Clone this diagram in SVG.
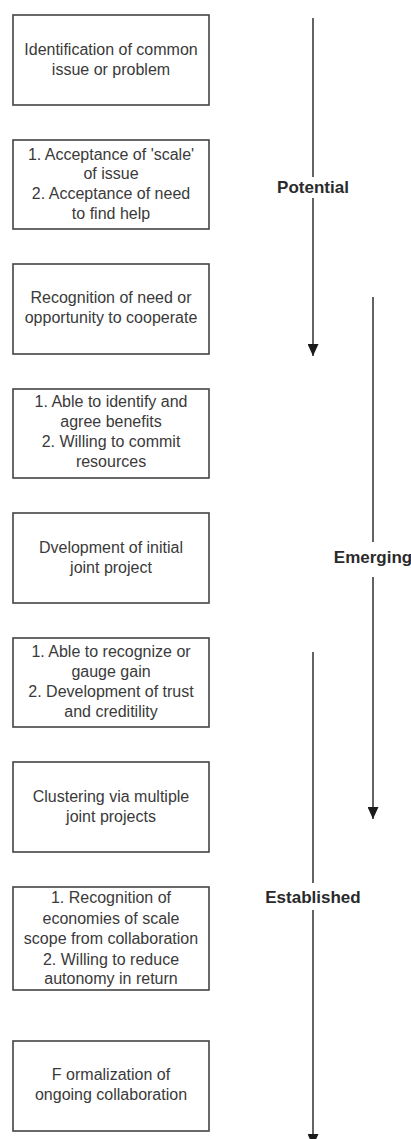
<svg xmlns="http://www.w3.org/2000/svg" width="411" height="1139" viewBox="0 0 411 1139">
  <style>
    .box { fill: #ffffff; stroke: #444444; stroke-width: 1.6; }
    .txt { font-family: "Liberation Sans", Arial, sans-serif; font-size: 16px; fill: #3a3a3a; text-anchor: middle; }
    .stage { font-family: "Liberation Sans", Arial, sans-serif; font-size: 17px; font-weight: bold; fill: #2a2a2a; text-anchor: middle; }
    .axis { stroke: #222222; stroke-width: 1.4; fill: none; }
  </style>
  <defs>
    <marker id="head" markerUnits="userSpaceOnUse" markerWidth="12" markerHeight="11" refX="12" refY="5.5" orient="auto">
      <path d="M0,0 L12,5.5 L0,11 z" fill="#1a1a1a"/>
    </marker>
  </defs>
  <rect width="411" height="1139" fill="#ffffff"/>

  <!-- stage arrows -->
  <g id="connectors">
    <line class="axis" x1="313" y1="18" x2="313" y2="177"/>
    <line class="axis" x1="313" y1="198" x2="313" y2="356" marker-end="url(#head)"/>
    <line class="axis" x1="373" y1="297" x2="373" y2="542"/>
    <line class="axis" x1="373" y1="577" x2="373" y2="819" marker-end="url(#head)"/>
    <line class="axis" x1="313" y1="652" x2="313" y2="883"/>
    <line class="axis" x1="313" y1="910" x2="313" y2="1146" marker-end="url(#head)"/>
  </g>

  <g id="stage-potential"><text class="stage" x="313" y="192.5">Potential</text></g>
  <g id="stage-emerging"><text class="stage" x="373" y="563">Emerging</text></g>
  <g id="stage-established"><text class="stage" x="313" y="903">Established</text></g>

  <!-- steps -->
  <g id="step1">
    <rect class="box" x="13" y="15" width="196" height="90"/>
    <text class="txt" x="111" y="55">Identification of common</text>
    <text class="txt" x="111" y="75">issue or problem</text>
  </g>
  <g id="step2">
    <rect class="box" x="13" y="140" width="196" height="89"/>
    <text class="txt" x="111" y="159.5">1. Acceptance of 'scale'</text>
    <text class="txt" x="111" y="179">of issue</text>
    <text class="txt" x="111" y="199">2. Acceptance of need</text>
    <text class="txt" x="111" y="219">to find help</text>
  </g>
  <g id="step3">
    <rect class="box" x="13" y="264" width="196" height="90"/>
    <text class="txt" x="111" y="303">Recognition of need or</text>
    <text class="txt" x="111" y="323">opportunity to cooperate</text>
  </g>
  <g id="step4">
    <rect class="box" x="13" y="389" width="196" height="89"/>
    <text class="txt" x="111" y="407">1. Able to identify and</text>
    <text class="txt" x="111" y="427">agree benefits</text>
    <text class="txt" x="111" y="447">2. Willing to commit</text>
    <text class="txt" x="111" y="467">resources</text>
  </g>
  <g id="step5">
    <rect class="box" x="13" y="513" width="196" height="90"/>
    <text class="txt" x="111" y="553">Dvelopment of initial</text>
    <text class="txt" x="111" y="573">joint project</text>
  </g>
  <g id="step6">
    <rect class="box" x="13" y="638" width="196" height="89"/>
    <text class="txt" x="111" y="657">1. Able to recognize or</text>
    <text class="txt" x="111" y="677">gauge gain</text>
    <text class="txt" x="111" y="697">2. Development of trust</text>
    <text class="txt" x="111" y="717">and creditility</text>
  </g>
  <g id="step7">
    <rect class="box" x="13" y="762" width="196" height="90"/>
    <text class="txt" x="111" y="802">Clustering via multiple</text>
    <text class="txt" x="111" y="822">joint projects</text>
  </g>
  <g id="step8">
    <rect class="box" x="13" y="887" width="196" height="103"/>
    <text class="txt" x="111" y="903">1. Recognition of</text>
    <text class="txt" x="111" y="923.5">economies of scale</text>
    <text class="txt" x="111" y="944">scope from collaboration</text>
    <text class="txt" x="111" y="964.5">2. Willing to reduce</text>
    <text class="txt" x="111" y="984">autonomy in return</text>
  </g>
  <g id="step9">
    <rect class="box" x="13" y="1041" width="196" height="90"/>
    <text class="txt" x="111" y="1080">F ormalization of</text>
    <text class="txt" x="111" y="1100">ongoing collaboration</text>
  </g>
</svg>
